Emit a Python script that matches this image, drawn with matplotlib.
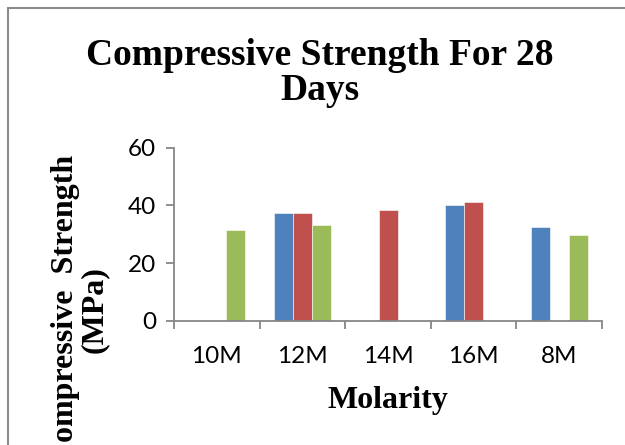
import matplotlib
matplotlib.use("Agg")
import matplotlib.pyplot as plt
from matplotlib.patches import Rectangle
import numpy as np

categories = ["10M", "12M", "14M", "16M", "8M"]
series_blue = [0, 37.3, 0, 40.2, 32.4]
series_red = [0, 37.5, 38.4, 41.2, 0]
series_green = [31.4, 33.2, 0, 0, 29.7]
yticks = [0, 20, 40, 60]

fig = plt.figure(figsize=(6.25, 4.45), dpi=100)
fig.patch.set_facecolor("white")
ax = fig.add_axes([0.2784, 0.2787, 0.6848, 0.3893])

x = np.arange(len(categories))
w = 19 / 85.6
colors = ["#4F81BD", "#C0504D", "#9BBB59"]
for i, (vals, c) in enumerate(zip([series_blue, series_red, series_green], colors)):
    ax.bar(x + (i - 1) * w, vals, width=w, color=c, edgecolor="white", linewidth=0.4)

ax.set_xlim(-0.5, len(categories) - 0.5)
ax.set_ylim(0, 60)
ax.set_yticks(yticks)
ax.set_xticks(np.arange(len(categories) + 1) - 0.5, minor=False)
ax.set_xticklabels([])
ax.set_xticks(x, minor=True)
ax.set_xticklabels(categories, minor=True)
ax.tick_params(axis="x", which="minor", length=0, pad=18)
ax.tick_params(axis="x", which="major", length=6, width=1.3, color="#868686", direction="out")
ax.tick_params(axis="y", length=6, width=1.3, color="#868686", direction="out", pad=7)

for lab in ax.get_xticklabels(minor=True) + ax.get_yticklabels():
    lab.set_fontfamily(["Lato", "DejaVu Sans"])
    lab.set_fontsize(17.5)
    lab.set_color("black")

for s in ["top", "right"]:
    ax.spines[s].set_visible(False)
for s in ["left", "bottom"]:
    ax.spines[s].set_color("#868686")
    ax.spines[s].set_linewidth(1.3)

serif = ["Liberation Serif", "DejaVu Serif"]
fig.text(320 / 625, 1 - 65 / 445, "Compressive Strength For 28", ha="center", va="baseline",
         fontsize=27, fontweight="bold", family=serif)
fig.text(320 / 625, 1 - 100 / 445, "Days", ha="center", va="baseline",
         fontsize=27, fontweight="bold", family=serif)
fig.text(388 / 625, 1 - 408 / 445, "Molarity", ha="center", va="baseline",
         fontsize=23, fontweight="bold", family=serif)
fig.text(80 / 625, 1 - 310 / 445, "Compressive  Strength\n(MPa)", ha="center", va="center",
         rotation=90, fontsize=23, fontweight="bold", family=serif, linespacing=1.0)

fig.patches.append(Rectangle((7.5 / 625, -0.1), 1.2, 1 - 7.5 / 445 + 0.1,
                             transform=fig.transFigure, fill=False,
                             edgecolor="#8C8C8C", linewidth=1.5))

fig.savefig("out.png", dpi=100, facecolor="white")
